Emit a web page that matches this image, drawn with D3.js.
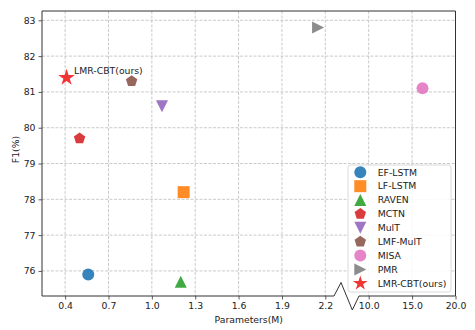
<!DOCTYPE html>
<html><head><meta charset="utf-8">
<script src="https://cdn.jsdelivr.net/npm/d3@7"></script>
<style>body{margin:0;background:#fff}svg{display:block;font-family:"DejaVu Sans",sans-serif}</style>
</head><body><svg id="c" width="475" height="330"></svg>
<script>
const models = ["EF-LSTM","LF-LSTM","RAVEN","MCTN","MulT","LMF-MulT","MISA","PMR","LMR-CBT(ours)"];
const params = [0.56, 1.22, 1.2, 0.5, 1.07, 0.86, 16.2, 2.15, 0.41];
const f1 = [75.9, 78.2, 75.7, 79.7, 80.6, 81.3, 81.1, 82.8, 81.4];
const colors = ["#1f77b4","#ff7f0e","#2ca02c","#d62728","#9467bd","#8c564b","#e377c2","#7f7f7f","#f02020"];
const shapes = ["circle","square","triUp","pentagon","triDown","pentagon","circle","triRight","star"];
const xTicks = [0.4,0.7,1.0,1.3,1.6,1.9,2.2,10,15,20];
const yTicks = [76,77,78,79,80,81,82,83];

const FS = 9.3;
const svg = d3.select("#c");
const L=42, R=455.5, T=11, B=296;
const x = d3.scaleLinear().domain([0.24, 2.2, 10, 20]).range([L, 325.3, 368.7, R]);
const y = d3.scaleLinear().domain([75.3, 83.26]).range([B, T]);

function marker(shape, ms){
  const h = ms/2;
  const poly = pts => "M" + pts.map(p=>p[0].toFixed(2)+","+p[1].toFixed(2)).join("L") + "Z";
  const reg = (n, r, rot) => d3.range(n).map(i=>{const a=rot+i*2*Math.PI/n;return [r*Math.sin(a), -r*Math.cos(a)];});
  switch(shape){
    case "circle": return d3.arc()({innerRadius:0,outerRadius:h,startAngle:0,endAngle:2*Math.PI});
    case "square": return poly([[-h,-h],[h,-h],[h,h],[-h,h]]);
    case "triUp": return poly([[0,-h],[-h,h],[h,h]]);
    case "triDown": return poly([[0,h],[-h,-h],[h,-h]]);
    case "triRight": return poly([[h,0],[-h,-h],[-h,h]]);
    case "pentagon": return poly(reg(5,h,0));
    case "star": {
      const pts=[];
      for(let i=0;i<10;i++){const r=i%2?h*0.381966:h;const a=i*Math.PI/5;pts.push([r*Math.sin(a),-r*Math.cos(a)]);}
      return poly(pts);
    }
  }
}
const msize = s => s==="star" ? 17.5 : 12;

// grid
const grid = svg.append("g").attr("stroke","#bdbdbd").attr("stroke-width",0.8).attr("stroke-dasharray","3,1.5");
grid.selectAll("line.v").data(xTicks).join("line").attr("x1",d=>x(d)).attr("x2",d=>x(d)).attr("y1",T).attr("y2",B);
grid.selectAll("line.h").data(yTicks).join("line").attr("y1",d=>y(d)).attr("y2",d=>y(d)).attr("x1",L).attr("x2",R);

// axes
const xa = svg.append("g").attr("transform",`translate(0,${B})`)
  .call(d3.axisBottom(x).tickValues(xTicks).tickFormat(d3.format(".1f")).tickSize(3.5).tickPadding(3));
const ya = svg.append("g").attr("transform",`translate(${L},0)`)
  .call(d3.axisLeft(y).tickValues(yTicks).tickFormat(d3.format("d")).tickSize(3.5).tickPadding(3));
[xa,ya].forEach(a=>{a.select(".domain").remove();a.selectAll("line").attr("stroke","#333").attr("stroke-width",0.8);
  a.selectAll("text").attr("font-size",FS).attr("fill","#222").attr("font-family","DejaVu Sans");});

// spines with break
svg.append("path").attr("fill","none").attr("stroke","#333").attr("stroke-width",1)
  .attr("d",`M${L},${B}L${L},${T}L${R},${T}L${R},${B}L359,${B}L352.3,310L341,282.5L334,${B}Z`);

// points
svg.append("g").selectAll("path").data(models).join("path")
  .attr("d",(d,i)=>marker(shapes[i],msize(shapes[i])))
  .attr("transform",(d,i)=>`translate(${x(params[i])},${y(f1[i])})`)
  .attr("fill",(d,i)=>colors[i]).attr("fill-opacity",0.9);

// annotation
const si = models.length-1;
svg.append("text").attr("x",x(params[si])+7.5).attr("y",y(f1[si])-3.5)
  .attr("font-size",FS).attr("fill","#222").text(models[si]);

// labels
svg.append("text").attr("x",(L+R)/2).attr("y",323).attr("text-anchor","middle").attr("font-size",FS).attr("fill","#222").text("Parameters(M)");
svg.append("text").attr("transform",`translate(15.5,${(T+B)/2-4}) rotate(-90)`).attr("text-anchor","middle").attr("dy","0.35em").attr("font-size",FS).attr("fill","#222").text("F1(%)");

// legend
const lg = svg.append("g");
lg.append("rect").attr("x",348).attr("y",165).attr("width",103).attr("height",127).attr("rx",2.5)
  .attr("fill","#fff").attr("fill-opacity",0.85).attr("stroke","#d0d0d0").attr("stroke-width",0.8);
const rows = lg.selectAll("g").data(models).join("g").attr("transform",(d,i)=>`translate(0,${172.3+i*13.88})`);
rows.append("path").attr("d",(d,i)=>marker(shapes[i],shapes[i]==="star"?15.5:12))
  .attr("transform","translate(360.3,0)").attr("fill",(d,i)=>colors[i]).attr("fill-opacity",0.9);
rows.append("text").attr("x",377.7).attr("dy","0.35em").attr("font-size",FS).attr("fill","#222").text(d=>d);
</script></body></html>
